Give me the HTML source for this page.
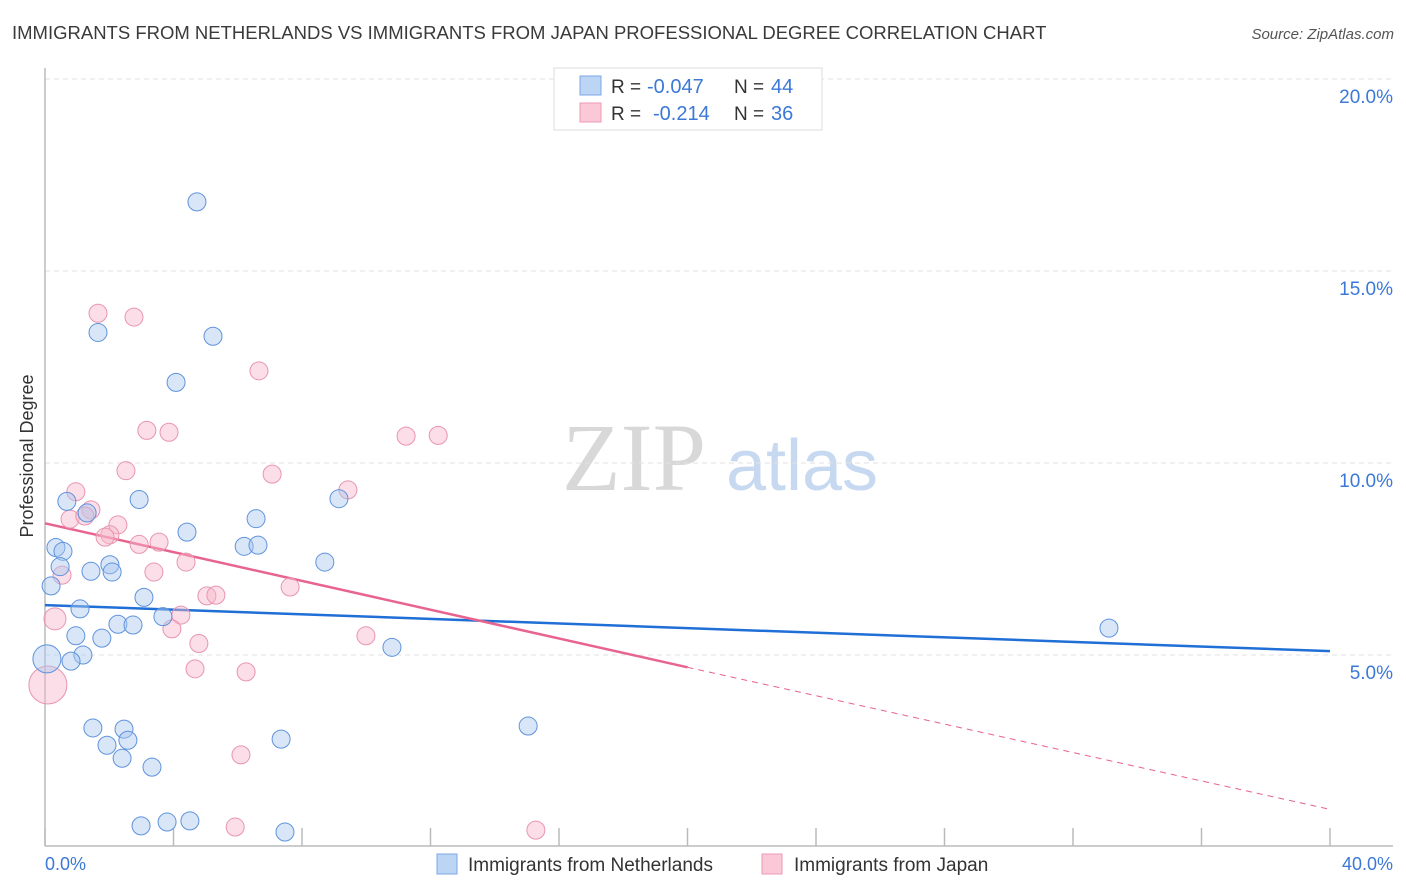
<!DOCTYPE html>
<html><head><meta charset="utf-8"><style>
body{margin:0;background:#fff;font-family:"Liberation Sans",sans-serif;}
svg{display:block}
</style></head><body>
<svg id="chart" width="1406" height="892" viewBox="0 0 1406 892" xmlns="http://www.w3.org/2000/svg">
<text x="12" y="39" font-size="18.5" fill="#3a3a3a">IMMIGRANTS FROM NETHERLANDS VS IMMIGRANTS FROM JAPAN PROFESSIONAL DEGREE CORRELATION CHART</text>
<text x="1394" y="39" font-size="15" fill="#555" font-style="italic" text-anchor="end">Source: ZipAtlas.com</text>
<g>
<text x="634" y="490" font-family="Liberation Serif,serif" font-size="96" fill="#d8d8d8" text-anchor="middle">ZIP</text>
<text x="802" y="490" font-size="72" fill="#c7d9f0" text-anchor="middle">atlas</text>
</g>
<g id="grid"></g>
<g id="axes"></g>
<g id="lines"></g>
<g id="points"></g>
<text transform="translate(33,456) rotate(-90)" font-size="18" fill="#333" text-anchor="middle">Professional Degree</text>
<text x="45" y="870" font-size="18" fill="#3b78d8">0.0%</text>
<text x="1393" y="870" font-size="18" fill="#3b78d8" text-anchor="end">40.0%</text>
<g>
<rect x="554" y="68" width="268" height="62" fill="#fff" stroke="#ddd"/>
<rect x="580" y="76" width="21" height="19" fill="#bcd5f5" stroke="#7aa7e6"/>
<rect x="580" y="103" width="21" height="19" fill="#fbc8d7" stroke="#ee9ab5"/>
<text x="611" y="93" font-size="19" fill="#333">R = </text><text x="647" y="93" font-size="20" fill="#3b78d8">-0.047</text>
<text x="734" y="93" font-size="19" fill="#333">N = </text><text x="771" y="93" font-size="20" fill="#3b78d8">44</text>
<text x="611" y="120" font-size="19" fill="#333">R = </text><text x="653" y="120" font-size="20" fill="#3b78d8">-0.214</text>
<text x="734" y="120" font-size="19" fill="#333">N = </text><text x="771" y="120" font-size="20" fill="#3b78d8">36</text>
</g>
<g>
<rect x="437" y="854" width="20" height="20" fill="#bcd5f5" stroke="#7aa7e6"/>
<text x="468" y="871" font-size="19" fill="#333">Immigrants from Netherlands</text>
<rect x="762" y="854" width="20" height="20" fill="#fbc8d7" stroke="#ee9ab5"/>
<text x="794" y="871" font-size="19" fill="#333">Immigrants from Japan</text>
</g>
</svg>
<script>
const yTicks=[5,10,15,20];
const yTickLabels=["5.0%","10.0%","15.0%","20.0%"];
const xTicks=[0,4,8,12,16,20,24,28,32,36,40];
const blueX=[4.73,1.65,5.23,4.08,0.68,2.93,9.15,1.31,6.57,4.42,0.34,0.56,6.2,6.63,2.02,0.47,8.71,1.43,2.09,0.19,3.08,1.09,3.67,2.27,2.74,0.96,1.77,10.8,1.18,0.81,0.06,33.12,1.49,2.46,1.93,2.58,2.4,7.35,15.04,3.33,2.99,3.8,4.51,7.47];
const blueY=[16.8,13.4,13.3,12.1,9.0,9.05,9.07,8.7,8.55,8.2,7.8,7.7,7.83,7.86,7.35,7.3,7.42,7.18,7.16,6.8,6.5,6.2,6.0,5.8,5.78,5.5,5.44,5.2,5.0,4.84,4.9,5.7,3.1,3.07,2.65,2.78,2.31,2.81,3.15,2.08,0.55,0.65,0.68,0.39];
const blueR=[9,9,9,9,9,9,9,9,9,9,9,9,9,9,9,9,9,9,9,9,9,9,9,9,9,9,9,9,9,9,14,9,9,9,9,9,9,9,9,9,9,9,9,9];
const pinkX=[1.65,2.77,6.66,3.17,3.86,11.24,12.24,2.52,7.07,0.96,1.43,9.43,0.78,1.24,2.27,2.02,1.87,2.93,3.55,4.39,3.39,0.53,7.63,5.04,5.32,4.23,0.31,3.95,9.99,4.79,4.67,6.26,0.09,6.1,5.92,15.28];
const pinkY=[13.9,13.8,12.4,10.85,10.8,10.7,10.72,9.8,9.71,9.25,8.78,9.3,8.54,8.62,8.39,8.13,8.07,7.88,7.94,7.42,7.16,7.08,6.77,6.54,6.56,6.04,5.94,5.68,5.5,5.3,4.64,4.56,4.22,2.4,0.52,0.44];
const pinkR=[9,9,9,9,9,9,9,9,9,9,9,9,9,9,9,9,9,9,9,9,9,9,9,9,9,9,11,9,9,9,9,9,19,9,9,9];
const blueTrend=[[0,6.3],[40,5.1]];
const pinkTrendSolid=[[0,8.43],[20,4.68]];
const pinkTrendDash=[[20,4.68],[40,0.98]];
const X=v=>45+v*32.125, Y=v=>847-v*38.4;
const NS="http://www.w3.org/2000/svg";
function mk(tag,parent,attrs){const e=document.createElementNS(NS,tag);for(const k in attrs)e.setAttribute(k,attrs[k]);document.getElementById(parent).appendChild(e);return e;}
yTicks.forEach((t,i)=>{
 const l=mk('line','grid',{x1:45,x2:1393,y1:Y(t),y2:Y(t),stroke:'#e2e2e2','stroke-dasharray':'5,4'});
 
 
 const tx=mk('text','grid',{x:1393,y:Y(t)+24,'font-size':19,fill:'#3b78d8','text-anchor':'end'});
 tx.textContent=yTickLabels[i];
 
 
});
const ax=mk('line','axes',{x1:45,x2:45,y1:68,y2:846,stroke:'#bbb','stroke-width':1.5});


const bx=mk('line','axes',{x1:45,x2:1393,y1:846,y2:846,stroke:'#bbb','stroke-width':1.5});


xTicks.forEach(t=>{
 const l=mk('line','axes',{x1:X(t),x2:X(t),y1:828,y2:846,stroke:'#bbb','stroke-width':1.5});
 
 
});
function trend(d,color,dash,name){
 const l=mk('line','lines',{x1:X(d[0][0]),y1:Y(d[0][1]),x2:X(d[1][0]),y2:Y(d[1][1]),stroke:color,'stroke-width':dash?1:2.5});
 if(dash)l.setAttribute('stroke-dasharray','6,5');
 
 
}
function pts(xs,ys,rs,fill,stroke,name){
 xs.forEach((x,i)=>{
  const c=mk('circle','points',{cx:X(x),cy:Y(ys[i]),r:rs[i],fill:fill,'fill-opacity':0.45,stroke:stroke,'stroke-width':1});
  
  
 });
}
pts(pinkX,pinkY,pinkR,'#f7b6ca','#e995b0','point-japan');
pts(blueX,blueY,blueR,'#a8c7f0','#5f93dc','point-netherlands');
trend(blueTrend,'#1f6fd6',false,'trendline-netherlands');
trend(pinkTrendSolid,'#e8638e',false,'trendline-japan');
trend(pinkTrendDash,'#e8638e',true,'trendline-japan-extrapolated');
</script>
</body></html>
